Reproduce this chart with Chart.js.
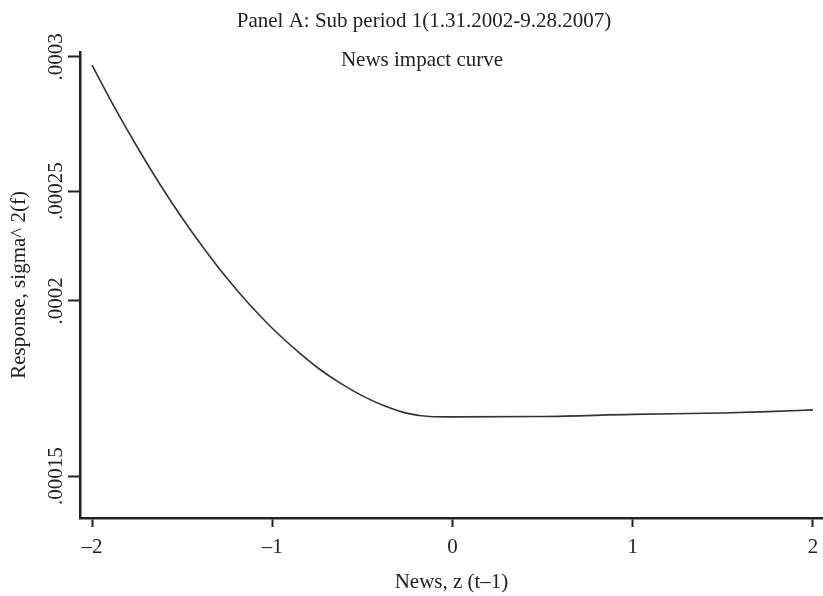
<!DOCTYPE html>
<html>
<head>
<meta charset="utf-8">
<script src="https://cdn.jsdelivr.net/npm/chart.js@4.4.1/dist/chart.umd.min.js"></script>
<style>
html,body{margin:0;padding:0;background:#ffffff;}
#wrap{width:823px;height:596px;position:relative;}
</style>
</head>
<body>
<div id="wrap"><canvas id="c"></canvas></div>
<script>
// ---- text ----
const TITLE = 'Panel A: Sub period 1(1.31.2002-9.28.2007)';
const SUBTITLE = 'News impact curve';
const X_TITLE = 'News, z (t\u20131)';
const Y_TITLE = 'Response, sigma^ 2(f)';

// ---- data ----
const NEWS = [-2, -1.875, -1.75, -1.625, -1.5, -1.375, -1.25, -1.125, -1, -0.875, -0.75, -0.625, -0.5, -0.375, -0.25, -0.125, 0, 0.5, 1, 1.5, 1.75, 2];
const RESPONSE = [0.000297, 0.0002812, 0.0002665, 0.0002527, 0.0002377, 0.0002234, 0.0002102, 0.0001989, 0.0001922, 0.0001863, 0.000181, 0.0001766, 0.0001729, 0.00017, 0.0001679, 0.000167, 0.0001669, 0.000167, 0.0001676, 0.000168, 0.0001684, 0.0001689];

// ---- ticks ----
const X_TICKS = [-2, -1, 0, 1, 2];
const X_TICK_LABELS = ['\u20132', '\u20131', '0', '1', '2'];
const Y_TICKS = [0.00015, 0.0002, 0.00025, 0.0003];
const Y_TICK_LABELS = ['.00015', '.0002', '.00025', '.0003'];

// ---- axis ranges / calibration of the (unevenly spaced) printed y axis ----
const X_MIN = -2.0667, X_MAX = 2.0556;
const Y_MIN = 0.000138, Y_MAX = 0.0003019;
const Y_KNOT_VALUES = [Y_MAX, 0.0003, 0.00025, 0.0002, 0.00015, Y_MIN];
const Y_KNOT_FRACS  = [0, 0.0107, 0.2983, 0.5343, 0.9099, 1];

class PiecewiseScale extends Chart.LinearScale {
  getPixelForValue(value) {
    const vs = Y_KNOT_VALUES, fs = Y_KNOT_FRACS;
    let i = 0;
    while (i < vs.length - 2 && value < vs[i + 1]) i++;
    const t = (value - vs[i]) / (vs[i + 1] - vs[i]);
    const f = fs[i] + t * (fs[i + 1] - fs[i]);
    return this.top + f * (this.bottom - this.top);
  }
  getValueForPixel(pixel) {
    const vs = Y_KNOT_VALUES, fs = Y_KNOT_FRACS;
    const f = (pixel - this.top) / (this.bottom - this.top);
    let i = 0;
    while (i < fs.length - 2 && f > fs[i + 1]) i++;
    const t = (f - fs[i]) / (fs[i + 1] - fs[i]);
    return vs[i] + t * (vs[i + 1] - vs[i]);
  }
}
PiecewiseScale.id = 'piecewise';
Chart.register(PiecewiseScale);

const INK = '#222222';
const SERIF = '"Liberation Serif", "Times New Roman", serif';
const FS = 21;

const titlesPlugin = {
  id: 'titles',
  afterDraw(chart) {
    const ctx = chart.ctx;
    ctx.save();
    ctx.fillStyle = INK;
    ctx.font = FS + 'px ' + SERIF;
    ctx.textAlign = 'center';
    ctx.textBaseline = 'alphabetic';
    ctx.fillText(TITLE, 424, 27);
    ctx.fillText(SUBTITLE, 422, 66);
    ctx.restore();
  }
};

new Chart(document.getElementById('c'), {
  type: 'line',
  data: {
    datasets: [{
      data: NEWS.map((x, i) => ({ x: x, y: RESPONSE[i] })),
      borderColor: '#333333',
      borderWidth: 1.6,
      pointRadius: 0,
      cubicInterpolationMode: 'monotone',
      fill: false
    }]
  },
  options: {
    responsive: true,
    maintainAspectRatio: false,
    animation: false,
    events: [],
    layout: { padding: { top: 52, left: 0, right: 0, bottom: 0 } },
    plugins: { legend: { display: false }, tooltip: { enabled: false }, title: { display: false } },
    scales: {
      x: {
        type: 'linear',
        min: X_MIN,
        max: X_MAX,
        afterBuildTicks: (s) => { s.ticks = X_TICKS.map(v => ({ value: v })); },
        afterFit: (s) => { s.height = 78; s.paddingLeft = 0; s.paddingRight = 0; },
        ticks: {
          color: INK,
          font: { family: SERIF, size: FS },
          padding: 8,
          maxRotation: 0,
          autoSkip: false,
          callback: (v) => { const i = X_TICKS.indexOf(v); return i >= 0 ? X_TICK_LABELS[i] : ''; }
        },
        grid: { drawOnChartArea: false, drawTicks: true, tickLength: 9, tickWidth: 2, tickColor: INK },
        border: { display: true, color: INK, width: 2.5 },
        title: { display: true, text: X_TITLE, color: INK, font: { family: SERIF, size: FS }, padding: { top: 0, bottom: 1 } }
      },
      y: {
        type: 'piecewise',
        min: Y_MIN,
        max: Y_MAX,
        afterBuildTicks: (s) => { s.ticks = Y_TICKS.map(v => ({ value: v })); },
        afterFit: (s) => { s.width = 80; s.paddingTop = 0; s.paddingBottom = 0; },
        ticks: {
          color: INK,
          font: { family: SERIF, size: FS },
          minRotation: 90,
          maxRotation: 90,
          crossAlign: 'center',
          padding: -17,
          autoSkip: false,
          callback: (v) => { const i = Y_TICKS.indexOf(v); return i >= 0 ? Y_TICK_LABELS[i] : ''; }
        },
        grid: { drawOnChartArea: false, drawTicks: true, tickLength: 12, tickWidth: 2, tickColor: INK },
        border: { display: true, color: INK, width: 2.5 },
        title: { display: true, text: Y_TITLE, color: INK, font: { family: SERIF, size: FS }, padding: { top: 7, bottom: 0 } }
      }
    }
  },
  plugins: [titlesPlugin]
});
</script>
</body>
</html>
